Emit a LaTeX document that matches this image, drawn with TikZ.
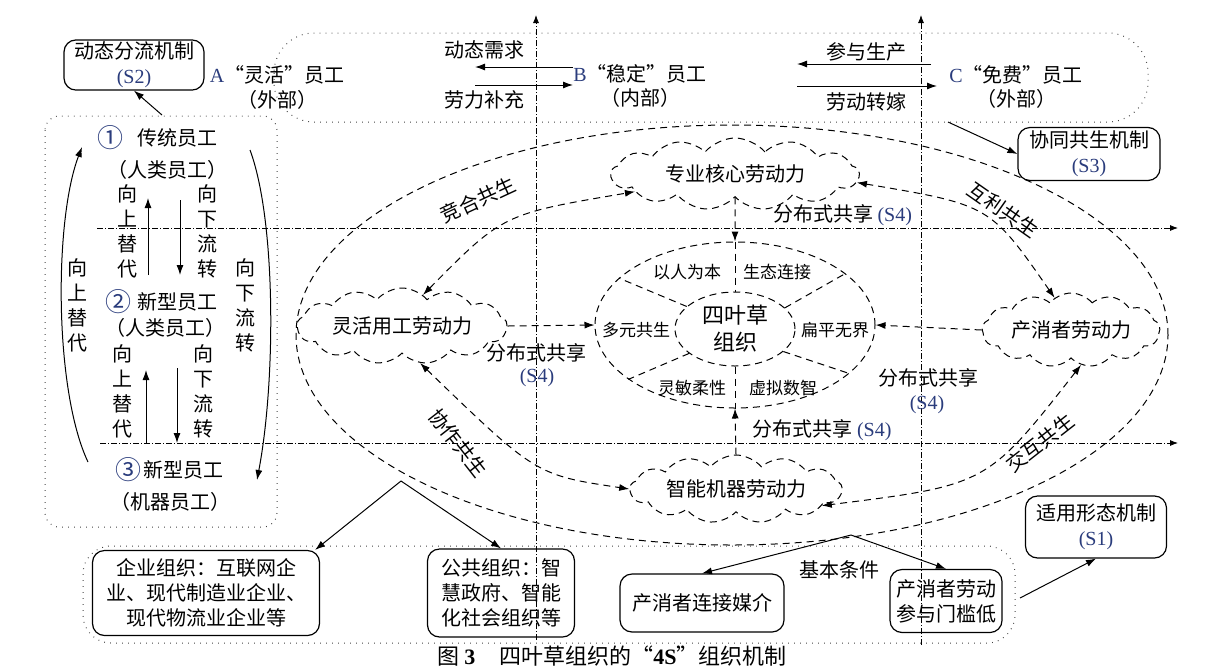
\documentclass[tikz,border=0pt]{standalone}
\usepackage{fontspec}
\setmainfont{Noto Sans CJK SC}
\newfontfamily\lat{Liberation Serif}
\usetikzlibrary{positioning,arrows.meta,shapes.geometric,shapes.symbols,calc}
\definecolor{slabel}{HTML}{2A3C7C}
\newcommand{\sid}[1]{{\lat\color{slabel}#1}}
\newcommand{\cnum}[1]{{\fontsize{13}{13}\selectfont\color{slabel}#1}}

\begin{document}
\begin{tikzpicture}[
  x=0.5pt, y=-0.5pt,
  box/.style = {draw, rounded corners=6pt, line width=.6pt, align=center, inner sep=1pt, font=\fontsize{10}{12.5}\selectfont},
  densedash/.style = {dash pattern=on 3.5pt off 2.5pt, line width=.5pt},
  puff/.style = {cloud, cloud puffs=13, cloud puff arc=100, cloud ignores aspect, draw, densedash, inner sep=0pt, font=\fontsize{10}{12}\selectfont},
  zone/.style = {draw=black!75, dash pattern=on .4pt off 2.6pt, line width=.5pt},
  axisline/.style = {dash pattern=on 3pt off 1pt on .5pt off 1pt, line width=.4pt, -{Latex[length=4pt,width=3pt]}},
  flow/.style = {line width=.5pt, -{Latex[length=5pt,width=3.5pt]}},
  feed/.style = {densedash, -{Latex[length=5pt,width=3.5pt]}},
  link/.style = {densedash, {Latex[length=5pt,width=3.5pt]}-{Latex[length=5pt,width=3.5pt]}},
  vtext/.style = {align=center, inner sep=0pt, font=\fontsize{10}{12.5}\selectfont},
  leaf/.style = {font=\fontsize{8.5}{10}\selectfont},
  tilt/.style = {inner sep=0pt}
  ]
  \useasboundingbox (0,0) rectangle (1230,670);

  % regions and axes
  \draw[zone, rounded corners=20pt] (274,33) rectangle (1148,122);
  \draw[zone, rounded corners=7pt] (45,116) rectangle (277,527);
  \draw[zone, rounded corners=14pt] (83,546) rectangle (1015,643);
  \draw[axisline] (97,228) -- (1178,228);
  \draw[axisline] (100,443) -- (1178,443);
  \draw[axisline] (536,640) -- (536,15);
  \draw[axisline] (921,645) -- (921,15);

  % outside workers
  \node (empA) at (277,75) {\sid{A}“灵活”员工};
  \node (empAs) at (277,100) {（外部）};
  \node (empB) at (640,74) {\sid{B}“稳定”员工};
  \node (empBs) at (640,98) {（内部）};
  \node (empC) at (1016,75) {\sid{C}“免费”员工};
  \node (empCs) at (1016,99) {（外部）};
  \node (demand) at (484,50) {动态需求};
  \node (supply) at (484,100) {劳力补充};
  \node (join) at (866,52) {参与生产};
  \node (shift) at (866,102) {劳动转嫁};
  \coordinate (dmdR) at (573,67);  \coordinate (dmdL) at (475,67);
  \coordinate (supL) at (475,85);  \coordinate (supR) at (573,85);
  \coordinate (joinR) at (931,64); \coordinate (joinL) at (797,64);
  \coordinate (shL) at (797,86);   \coordinate (shR) at (937,86);
  \draw[flow] (dmdR) -- (dmdL);
  \draw[flow] (supL) -- (supR);
  \draw[flow] (joinR) -- (joinL);
  \draw[flow] (shL) -- (shR);

  % mechanism boxes
  \node[box, minimum width=70pt, minimum height=25pt] (s2) at (134,65) {动态分流机制\\\sid{(S2)}};
  \node[box, minimum width=71pt, minimum height=26.5pt] (s3) at (1089,154) {协同共生机制\\\sid{(S3)}};
  \node[box, minimum width=70.5pt, minimum height=31pt] (s1) at (1096,527) {适用形态机制\\\sid{(S1)}};
  \coordinate (s2from) at (162,115);
  \coordinate (s3from) at (948,122);
  \coordinate (s1from) at (1020,598);
  \draw[flow] (s2from) -- (s2.south);
  \draw[flow] (s3from) -- (s3.west);
  \draw[flow] (s1from) -- (s1.south);

  % internal flow of workers
  \node (n1) at (110,138) {\cnum{①}};
  \node (w1) at (177,138) {传统员工};
  \node (w1s) at (167,170) {（人类员工）};
  \node (n2) at (118,302) {\cnum{②}};
  \node (w2) at (177,302) {新型员工};
  \node (w2s) at (165,328) {（人类员工）};
  \node (n3) at (128,470) {\cnum{③}};
  \node (w3) at (183,470) {新型员工};
  \node (w3s) at (170,502) {（机器员工）};
  \node[vtext] (up1) at (127,231) {向\\上\\替\\代};
  \node[vtext] (dn1) at (207,231) {向\\下\\流\\转};
  \node[vtext] (up2) at (122,391) {向\\上\\替\\代};
  \node[vtext] (dn2) at (203,391) {向\\下\\流\\转};
  \node[vtext] (upL) at (77,305) {向\\上\\替\\代};
  \node[vtext] (dnR) at (245,305) {向\\下\\流\\转};
  \draw[flow] (148,275) -- (148,198);
  \draw[flow] (180,200) -- (180,275);
  \draw[flow] (146,443) -- (146,370);
  \draw[flow] (177,368) -- (177,443);
  \draw[flow] (88,462) .. controls (54,390) and (54,220) .. (82,147);
  \draw[flow] (250,150) .. controls (276,220) and (276,380) .. (257,480);

  % symbiosis ring
  \node[ellipse, draw, densedash, minimum width=436pt, minimum height=210pt] (ring) at (732,335) {};
  \node[tilt, rotate=25] (jh) at (478,200) {竞合共生};
  \node[tilt, rotate=-35] (hl) at (1003,210) {互利共生};
  \node[tilt, rotate=-52] (xz) at (458,443) {协作共生};
  \node[tilt, rotate=38] (jhu) at (1040,443) {交互共生};

  % four-leaf clover
  \node[ellipse, draw, densedash, minimum width=140pt, minimum height=83pt] (clover) at (735,325) {};
  \node[ellipse, draw, densedash, minimum width=60pt, minimum height=37pt, inner sep=0pt, align=center,
        font=\fontsize{11}{13.5}\selectfont] (core) at (735,329) {四叶草\\组织};
  \draw[densedash] (core.155) -- (clover.158);
  \draw[densedash] (core.23) -- (clover.25);
  \draw[densedash] (core.208) -- (clover.207);
  \draw[densedash] (core.335) -- (clover.337);
  \draw[densedash] (clover.north) -- (core.north);
  \draw[densedash] (core.south) -- (clover.south);
  \node[leaf] (lfA) at (687,272) {以人为本};
  \node[leaf] (lfB) at (777,272) {生态连接};
  \node[leaf] (lfC) at (636,330) {多元共生};
  \node[leaf] (lfD) at (835,330) {扁平无界};
  \node[leaf] (lfE) at (692,388) {灵敏柔性};
  \node[leaf] (lfF) at (783,388) {虚拟数智};

  % labour clouds
  \node[puff, minimum width=124pt, minimum height=36pt] (zy) at (735,174) {专业核心劳动力};
  \node[puff, minimum width=105pt, minimum height=38pt] (lh) at (402,326) {灵活用工劳动力};
  \node[puff, minimum width=89pt, minimum height=37pt] (cxz) at (1071,330) {产消者劳动力};
  \node[puff, minimum width=106pt, minimum height=34pt] (zn) at (736,489) {智能机器劳动力};

  \draw[feed] (zy.south) -- (clover.north);
  \draw[feed] (zn.north) -- (clover.south);
  \draw[feed] (lh.east) -- (clover.west);
  \draw[feed] (cxz.west) -- (clover.east);
  \draw[link] (lh.56) .. controls (503,214) .. (zy.190);
  \draw[link] (lh.296) .. controls (536,475) .. (zn.180);
  \draw[link] (zy.356) .. controls (990,205) .. (cxz.117);
  \draw[link] (cxz.286) .. controls (987,485) .. (zn.349);

  \node[anchor=west] (shareT) at (766,215) {分布式共享 \sid{(S4)}};
  \node (shareL) at (536,353) {分布式共享};
  \node (shareLs) at (537,378) {\sid{(S4)}};
  \node (shareR) at (928,378) {分布式共享};
  \node (shareRs) at (927,405) {\sid{(S4)}};
  \node (shareB) at (822,430) {分布式共享 \sid{(S4)}};

  % organisations and conditions
  \node[box, minimum width=113.5pt, minimum height=42.5pt] (qiye) at (206,593) {企业组织：互联网企\\业、现代制造业企业、\\现代物流业企业等};
  \node[box, minimum width=73.5pt, minimum height=44pt] (gonggong) at (501,593) {公共组织：智\\慧政府、智能\\化社会组织等};
  \node[box, minimum width=82pt, minimum height=29pt] (meijie) at (702,603) {产消者连接媒介};
  \node[box, minimum width=56pt, minimum height=31.5pt] (menkan) at (946,601) {产消者劳动\\参与门槛低};
  \node (jiben) at (839,570) {基本条件};
  \coordinate (forkL) at (401,481);
  \coordinate (forkR) at (851,535);
  \draw[flow] (forkL) -- ($(qiye.north east)+(-5,0)$);
  \draw[flow] (forkL) -- (gonggong.north);
  \draw[flow] (forkR) -- (meijie.north);
  \draw[flow] (forkR) -- (menkan.north);

  \node[font=\fontsize{11}{13}\selectfont] (caption) at (612,656)
    {图\ {\lat\bfseries 3}\hspace{12pt}四叶草组织的“{\lat\bfseries 4S}”组织机制};
\end{tikzpicture}
\end{document}
